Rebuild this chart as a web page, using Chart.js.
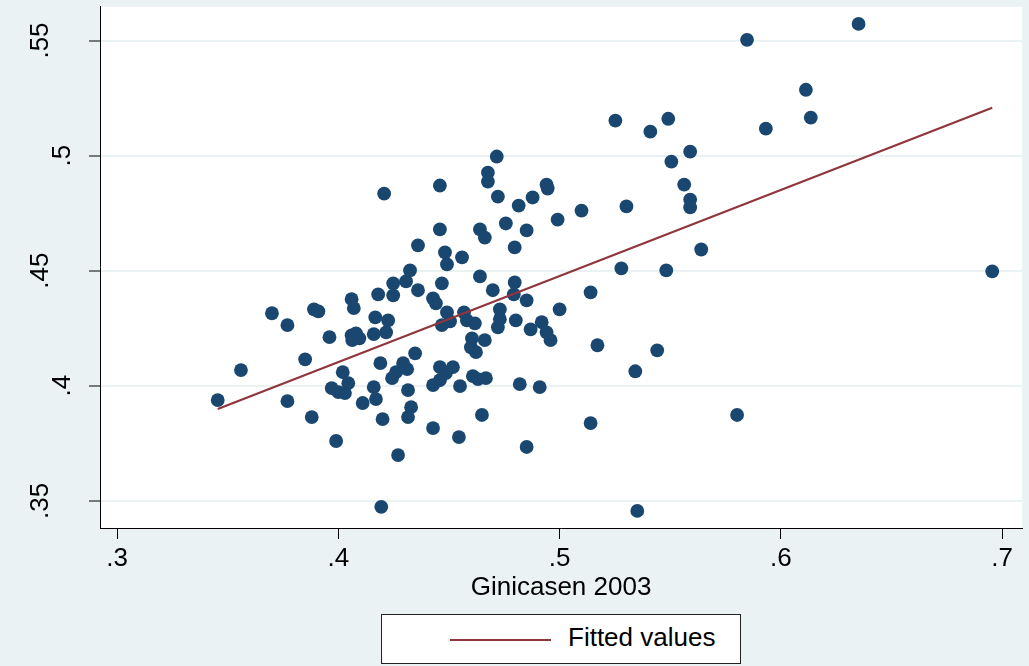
<!DOCTYPE html>
<html><head><meta charset="utf-8">
<script src="https://cdn.jsdelivr.net/npm/chart.js@4.4.1/dist/chart.umd.min.js"></script>
<style>
html,body{margin:0;padding:0;background:#EAF2F3;overflow:hidden;}
#wrap{position:relative;width:1029px;height:666px;background:#EAF2F3;}
#c{position:absolute;left:0;top:0;}
#legend{position:absolute;left:381px;top:614px;width:360px;height:50px;background:#fff;border:1px solid #222;box-sizing:border-box;font:26px "Liberation Sans",Arial,sans-serif;color:#000;}
#legend .ln{position:absolute;left:68px;top:24px;width:101px;height:2px;background:#90353B;}
#legend .tx{position:absolute;left:186px;top:7px;line-height:30px;white-space:nowrap;}
</style></head>
<body>
<div id="wrap">
<canvas id="c" width="1029" height="666"></canvas>
<div id="legend"><div class="ln"></div><div class="tx">Fitted values</div></div>
</div>
<script>
const giniX = [0.3455,0.356,0.370,0.377,0.377,0.385,0.388,0.389,0.391,0.396,0.397,0.399,0.400,0.403,0.402,0.4045,0.406,0.407,0.406,0.408,0.4095,0.4063,0.411,0.416,0.416,0.417,0.4167,0.418,0.419,0.420,0.4194,0.4207,0.4216,0.4225,0.4248,0.4248,0.4261,0.4243,0.427,0.4293,0.4311,0.4315,0.4329,0.4315,0.4306,0.4324,0.4347,0.436,0.436,0.4428,0.4441,0.4428,0.4459,0.4459,0.4468,0.4482,0.4491,0.4491,0.4505,0.4468,0.4459,0.4518,0.4486,0.4459,0.4428,0.4545,0.455,0.4559,0.4568,0.4581,0.4617,0.4604,0.4662,0.4599,0.4622,0.4608,0.4631,0.4667,0.4649,0.464,0.4662,0.464,0.4676,0.4676,0.4698,0.4716,0.4721,0.4721,0.473,0.473,0.4757,0.4797,0.4797,0.4793,0.4802,0.4815,0.482,0.4851,0.4851,0.4851,0.4869,0.4878,0.491,0.4919,0.4941,0.4959,0.4941,0.4946,0.4991,0.500,0.5099,0.514,0.514,0.5171,0.5252,0.5279,0.5302,0.5342,0.5351,0.541,0.5441,0.5482,0.5491,0.5505,0.5563,0.559,0.559,0.559,0.564,0.5802,0.5847,0.5932,0.6113,0.6135,0.6351,0.6955];
const giniY = [0.3938,0.4068,0.4315,0.4263,0.3933,0.4115,0.3864,0.4332,0.4323,0.4211,0.399,0.376,0.3972,0.3968,0.4059,0.4011,0.4376,0.4337,0.4219,0.4228,0.4206,0.4198,0.3925,0.4224,0.3994,0.3942,0.4297,0.4397,0.4098,0.3855,0.3474,0.4835,0.4232,0.4284,0.4445,0.4393,0.4059,0.4033,0.3699,0.4098,0.4072,0.3981,0.3907,0.3864,0.4454,0.4501,0.4141,0.461,0.4415,0.438,0.4358,0.3816,0.487,0.4679,0.4445,0.4579,0.4527,0.4319,0.428,0.4263,0.4081,0.4081,0.4055,0.4024,0.4003,0.3777,0.3998,0.4558,0.4319,0.4284,0.4271,0.4206,0.4198,0.4167,0.4146,0.4042,0.4029,0.4033,0.3873,0.4679,0.4644,0.4475,0.4926,0.4887,0.4415,0.4996,0.4822,0.4254,0.4332,0.4289,0.4705,0.4601,0.4449,0.4397,0.4284,0.4783,0.4007,0.4675,0.4371,0.3734,0.4245,0.4818,0.3994,0.4276,0.4232,0.4198,0.4874,0.4857,0.4722,0.4332,0.4761,0.4406,0.3838,0.4176,0.5152,0.451,0.4779,0.4063,0.3456,0.5104,0.4154,0.4501,0.516,0.4974,0.4874,0.5017,0.4809,0.4775,0.4592,0.3873,0.5503,0.5117,0.5286,0.5165,0.5572,0.4497];
const fitX = [0.3455, 0.6955];
const fitY = [0.3899, 0.5208];
const xTicks = [0.3, 0.4, 0.5, 0.6, 0.7];
const yTicks = [0.35, 0.4, 0.45, 0.5, 0.55];
const xTitle = 'Ginicasen 2003';
const fitLabel = 'Fitted values';

const FONT = '"Liberation Sans", Arial, sans-serif';
const fmt = v => String(v).replace(/^0(?=\.)/, '');

const yLabelPlugin = {
  id: 'yLabels',
  afterDraw(chart) {
    const s = chart.scales.y, ctx = chart.ctx;
    ctx.save();
    ctx.fillStyle = '#000';
    ctx.font = '26px ' + FONT;
    ctx.textAlign = 'center';
    ctx.textBaseline = 'middle';
    yTicks.forEach(v => {
      const t = fmt(v);
      const py = s.getPixelForValue(v);
      const cx = t.length >= 3 ? 41 : 63;
      ctx.save();
      ctx.translate(cx, py);
      ctx.rotate(-Math.PI / 2);
      ctx.fillText(t, 0, 0);
      ctx.restore();
    });
    ctx.restore();
  }
};

new Chart(document.getElementById('c'), {
  data: {
    datasets: [
      {
        type: 'line', label: fitLabel,
        data: fitX.map((x, i) => ({x, y: fitY[i]})),
        borderColor: '#90353B', borderWidth: 2.2, pointRadius: 0, fill: false,
        order: 0
      },
      {
        type: 'scatter', label: 'points',
        data: giniX.map((x, i) => ({x, y: giniY[i]})),
        backgroundColor: '#1A476F', borderColor: '#1A476F', borderWidth: 0,
        pointRadius: 6.9, pointHoverRadius: 6.9,
        order: 1
      }
    ]
  },
  options: {
    responsive: false, animation: false, devicePixelRatio: 1,
    layout: {padding: {left: 0, top: 6, right: 5, bottom: 58}},
    plugins: {legend: {display: false}, tooltip: {enabled: false}},
    scales: {
      x: {
        type: 'linear', min: 0.2923, max: 0.709,
        afterBuildTicks: s => { s.ticks = xTicks.map(v => ({value: v})); },
        afterFit: s => { s.height = 80; },
        grid: {drawOnChartArea: false, drawTicks: true, tickLength: 11, tickColor: '#000', tickWidth: 1},
        border: {display: true, color: '#000', width: 1},
        ticks: {color: '#000', font: {family: FONT, size: 26}, padding: 4, maxRotation: 0, autoSkip: false, callback: v => fmt(v)},
        title: {display: true, text: xTitle, color: '#000', font: {family: FONT, size: 26}, padding: {top: 0, bottom: 5}}
      },
      y: {
        type: 'linear', min: 0.3382, max: 0.5646,
        afterBuildTicks: s => { s.ticks = yTicks.map(v => ({value: v})); },
        afterFit: s => { s.width = 100; },
        grid: {color: '#EAF2F3', lineWidth: 2, drawTicks: true, tickLength: 11, tickColor: '#000', tickWidth: 1},
        border: {display: true, color: '#000', width: 1},
        ticks: {color: 'rgba(0,0,0,0)', font: {family: FONT, size: 1}, padding: 0, callback: v => fmt(v)}
      }
    }
  },
  plugins: [{
    id: 'bg',
    beforeDraw(chart) {
      const {ctx, chartArea: a} = chart;
      ctx.save();
      ctx.fillStyle = '#EAF2F3';
      ctx.fillRect(0, 0, chart.width, chart.height);
      ctx.fillStyle = '#FFFFFF';
      ctx.fillRect(a.left, a.top, a.right - a.left, a.bottom - a.top);
      ctx.restore();
    }
  }, yLabelPlugin]
});
</script>
</body></html>
